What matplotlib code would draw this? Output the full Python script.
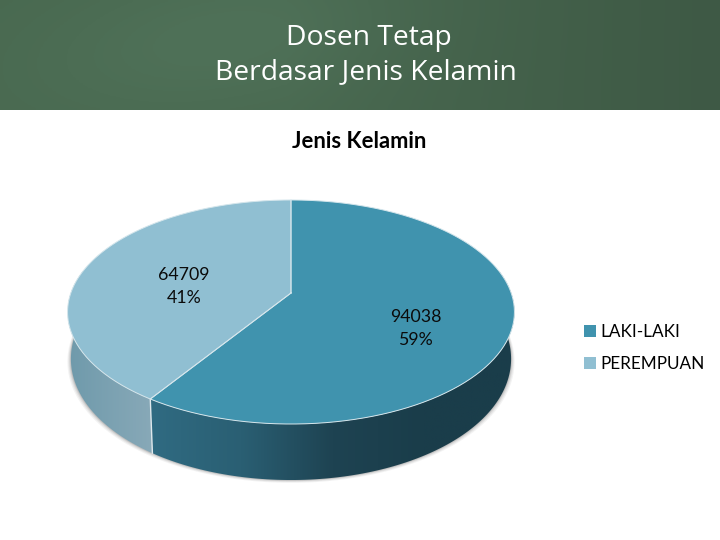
import matplotlib
matplotlib.use('Agg')
import matplotlib.pyplot as plt
import numpy as np
from matplotlib.patches import Patch, Polygon
from matplotlib.colors import LinearSegmentedColormap

categories = ['LAKI-LAKI', 'PEREMPUAN']
values = [94038, 64709]
percent_labels = ['59%', '41%']
colors = ['#4093ae', '#90bfd2']
side_colors = [['#306b82', '#2a5f73', '#1e4352', '#1a3d4a', '#1a3d4a'],
               ['#6f9aab', '#88a9b8']]

# centre of the pie and the shape of the tilted disc (pixels)
cx, cy = 291, 293
a, c, d = -108.8, 0.1696, 220.2


def top_rim(theta):
    # theta runs clockwise from the top, perspective view of the circle
    u, v = np.sin(theta), np.cos(theta)
    w = 1 + c * v
    return cx + d * u / w, cy + a * v / w


def bottom_rim(theta):
    x, y = top_rim(theta)
    depth = 45 - 11 * np.cos(theta)
    return cx + (x - cx) * 0.985, y + depth


fig = plt.figure(figsize=(7.2, 5.4), dpi=100)
ax = fig.add_axes([0, 0, 1, 1])
ax.set_xlim(0, 720)
ax.set_ylim(540, 0)
ax.axis('off')

# banner
bx = np.linspace(0, 1, 180)
by = np.linspace(0, 1, 40)
X, Y = np.meshgrid(bx, by)
glow = np.exp(-((X - 0.3 + 0.12 * (Y - 0.4)) ** 2) / 0.06 - ((Y - 0.35) ** 2) / 0.5)
shade = np.clip((X - 0.4) / 0.6, 0, 1)
banner = np.zeros(X.shape + (3,))
base = np.array([0x49, 0x69, 0x50]) / 255
dark = np.array([0x3e, 0x59, 0x45]) / 255
light = np.array([0x4f, 0x71, 0x58]) / 255
for i in range(3):
    banner[..., i] = base[i] + (dark[i] - base[i]) * shade + (light[i] - base[i]) * glow
ax.imshow(np.clip(banner, 0, 1), extent=[0, 720, 110, 0], aspect='auto', zorder=1)
ax.set_xlim(0, 720)
ax.set_ylim(540, 0)

ax.text(369, 38, 'Dosen Tetap', color='white', fontsize=20.3, family='Open Sans',
        ha='center', va='center', zorder=5)
ax.text(365.5, 72, 'Berdasar Jenis Kelamin', color='white', fontsize=20.3, family='Open Sans',
        ha='center', va='center', zorder=5)
ax.text(359.5, 141, 'Jenis Kelamin', color='black', fontsize=15.8, family='Lato',
        fontweight='bold', ha='center', va='center', zorder=5)

# angles of the slices from the values
fractions = np.array(values) / sum(values)
edges = np.concatenate([[0], np.cumsum(fractions)]) * 2 * np.pi

# soft shadow under the disc
tt = np.linspace(0, 2 * np.pi, 300)
bx_, by_ = bottom_rim(tt)
for grow, alpha in [(3.5, 0.07), (2.5, 0.09), (1.5, 0.12), (0.7, 0.16)]:
    sx = cx + (bx_ - cx) * (1 + grow / 220)
    sy = by_ + grow * 0.8
    ax.fill(sx, sy, color='#555555', alpha=alpha, lw=0, zorder=2)

# side walls, only the front part shows
for i in range(len(values)):
    t0, t1 = edges[i], edges[i + 1]
    th = np.linspace(t0, t1, 200)
    th = th[np.cos(th) < 0.22]
    tx, ty = top_rim(th)
    ux, uy = bottom_rim(th)
    wx = np.concatenate([tx, ux[::-1]])
    wy = np.concatenate([ty, uy[::-1]])
    cmap = LinearSegmentedColormap.from_list('side%d' % i, side_colors[i])
    im = ax.imshow(np.linspace(0, 1, 256)[None, :], cmap=cmap, aspect='auto', zorder=3,
                   extent=[wx.min(), wx.max(), wy.max(), wy.min()])
    im.set_clip_path(Polygon(np.column_stack([wx, wy]), transform=ax.transData))
ax.set_xlim(0, 720)
ax.set_ylim(540, 0)

# seam between the slices on the side
sx0, sy0 = top_rim(edges[1])
sx1, sy1 = bottom_rim(edges[1])
ax.plot([sx0, sx1], [sy0, sy1], color='#dfe8ec', lw=1, zorder=3.5)

# top of the slices
for i in range(len(values)):
    th = np.linspace(edges[i], edges[i + 1], 200)
    x, y = top_rim(th)
    ax.fill(np.r_[cx, x], np.r_[cy, y], color=colors[i], lw=0, zorder=4)
    ax.plot(np.r_[cx, x, cx], np.r_[cy, y, cy], color='#d5e6ec', lw=0.7, zorder=4.2)

# data labels
label_x = [415.5, 184]
label_y = [328.5, 286.5]
for i in range(len(values)):
    ax.text(label_x[i], label_y[i], '%d\n%s' % (values[i], percent_labels[i]), color='#0b0b0b',
            fontsize=12.8, family='Lato', ha='center', va='center', linespacing=1.6, zorder=5)

handles = [Patch(facecolor=colors[i], edgecolor='none', label=categories[i]) for i in range(len(values))]
leg = ax.legend(handles=handles, loc='center left', bbox_to_anchor=(584 / 720, 1 - 348 / 540),
                frameon=False, handlelength=0.69, handleheight=0.69, handletextpad=0.25,
                labelspacing=0.95, borderpad=0, borderaxespad=0,
                prop={'family': 'Lato', 'size': 12.3})

fig.savefig('out.png', dpi=100, facecolor='white')
